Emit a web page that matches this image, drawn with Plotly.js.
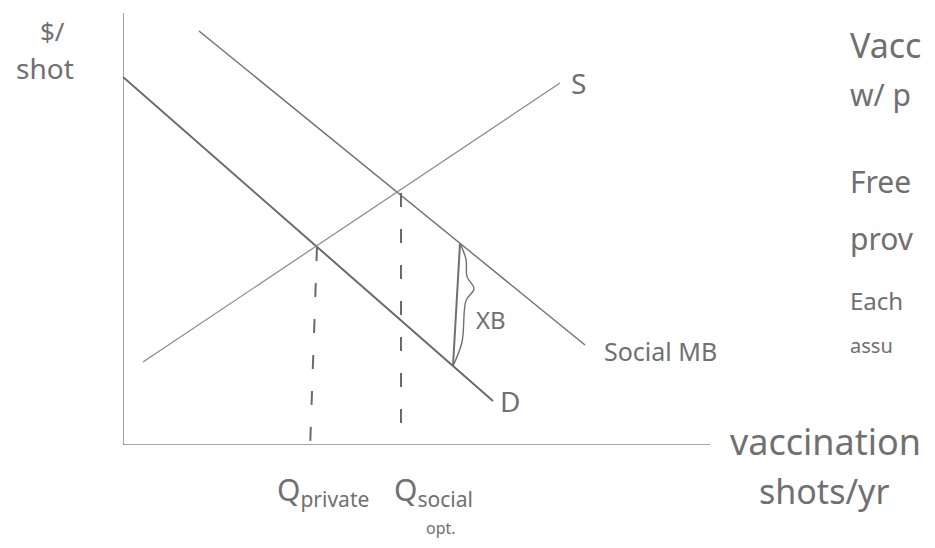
<!DOCTYPE html>
<html>
<head>
<meta charset="utf-8">
<script src="https://cdn.plot.ly/plotly-3.0.1.min.js"></script>
<style>
  html, body { margin: 0; padding: 0; background: #ffffff; }
  #chart { width: 935px; height: 548px; }
</style>
</head>
<body>
<div id="chart"></div>
<script>
// Vaccination market with a positive externality (quantity vs $ per shot)
const demandQ = [0, 74];          // private demand D
const demandP = [92, 11];
const socialMbQ = [15.2, 92.4];   // social marginal benefit
const socialMbP = [103.5, 25];
const supplyQ = [4, 87.4];        // supply S
const supplyP = [20.75, 90.5];

const qPrivate = 38.8;            // private equilibrium quantity
const pPrivate = 49.5;
const qSocial = 55.6;             // socially optimal quantity
const pSocial = 63.0;

const xAxisEnd = 117.4;
const yAxisTop = 108;

const braceQ = 66.2;              // where the external benefit gap is marked

const sideNotes = ["Vacc", "w/ p", "Free", "prov", "Each", "assu"];
const sideNoteP = [100, 87.5, 65.75, 51.75, 36.25, 25];

const X_RANGE = [0, 162.4];
const Y_RANGE = [0, 111.25];

const pencil = "#707070";
const ink = "#6a6a6a";
const handFont = "Noto Sans";

// values along a straight curve
function lineAt(qs, ps, q) {
  const t = (q - qs[0]) / (qs[1] - qs[0]);
  return ps[0] + t * (ps[1] - ps[0]);
}

const braceTop = lineAt(socialMbQ, socialMbP, braceQ + 1.2);
const braceBot = lineAt(demandQ, demandP, braceQ - 0.2);
const braceMid = (braceTop + braceBot) / 2 + 4;

const traces = [
  // axes
  { x: [0, 0], y: [yAxisTop, 0], mode: "lines", line: { color: "#8a8a8a", width: 1.6 }, hoverinfo: "skip" },
  { x: [0, xAxisEnd], y: [0, 0], mode: "lines", line: { color: "#8a8a8a", width: 1.6 }, hoverinfo: "skip" },
  // curves
  { x: demandQ, y: demandP, mode: "lines", line: { color: ink, width: 2 }, hoverinfo: "skip" },
  { x: socialMbQ, y: socialMbP, mode: "lines", line: { color: pencil, width: 1.4 }, hoverinfo: "skip" },
  { x: supplyQ, y: supplyP, mode: "lines", line: { color: "#888888", width: 1.2 }, hoverinfo: "skip" },
  // dashed drops to the quantity axis
  { x: [qPrivate, qPrivate - 1.4], y: [pPrivate, -1.2], mode: "lines",
    line: { color: ink, width: 2, dash: "14px,22px" }, hoverinfo: "skip" },
  { x: [qSocial, qSocial], y: [pSocial, -1.2], mode: "lines",
    line: { color: ink, width: 2, dash: "14px,22px" }, hoverinfo: "skip" },
  // external benefit brace
  { x: [braceQ + 1.2, braceQ - 0.2], y: [braceTop, braceBot], mode: "lines",
    line: { color: pencil, width: 2 }, hoverinfo: "skip" },
  { x: [braceQ + 1.2, braceQ + 2.4, braceQ + 2.6, braceQ + 4.0, braceQ + 2.4, braceQ + 1.6, braceQ - 0.2],
    y: [braceTop, braceTop - 4, braceMid + 3, braceMid, braceMid - 3, braceBot + 6, braceBot],
    mode: "lines", line: { color: pencil, width: 1.4, shape: "spline" }, hoverinfo: "skip" }
];

// labels are placed by the same quantity/price scale, expressed on the paper
function note(text, q, p, size, anchor) {
  return { text: text,
           x: (q - X_RANGE[0]) / (X_RANGE[1] - X_RANGE[0]),
           y: (p - Y_RANGE[0]) / (Y_RANGE[1] - Y_RANGE[0]),
           xref: "paper", yref: "paper", showarrow: false,
           xanchor: anchor || "center", yanchor: "middle",
           font: { family: handFont, size: size, color: pencil } };
}

const annotations = [
  note("$/", -14.2, 103.5, 26),
  note("shot", -15.6, 94.2, 28),
  note("S", 91, 90.5, 28),
  note("Social MB", 107.6, 23.5, 25),
  note("D", 77.4, 11, 28),
  note("XB", 73.6, 31.5, 24),
  note("vaccination", 140.6, 1.0, 36),
  note("shots/yr", 140.2, -11.5, 34),
  note("Q<sub>private</sub>", qPrivate + 1.2, -11.5, 30),
  note("Q<sub>social</sub>", qSocial + 6.4, -11.5, 30),
  note("opt.", qSocial + 8, -20.8, 16)
];
const noteSizes = [34, 30, 30, 30, 24, 20];
sideNotes.forEach((t, i) => annotations.push(note(t, 145, sideNoteP[i], noteSizes[i], "left")));

const layout = {
  width: 935, height: 548,
  margin: { l: 123, r: 0, t: 0, b: 103 },
  paper_bgcolor: "#ffffff", plot_bgcolor: "#ffffff",
  showlegend: false,
  xaxis: { range: X_RANGE, visible: false, fixedrange: true },
  yaxis: { range: Y_RANGE, visible: false, fixedrange: true },
  annotations: annotations
};

Plotly.newPlot("chart", traces.map(t => Object.assign({ type: "scatter", cliponaxis: false }, t)),
  layout, { staticPlot: true, displayModeBar: false });
</script>
</body>
</html>
